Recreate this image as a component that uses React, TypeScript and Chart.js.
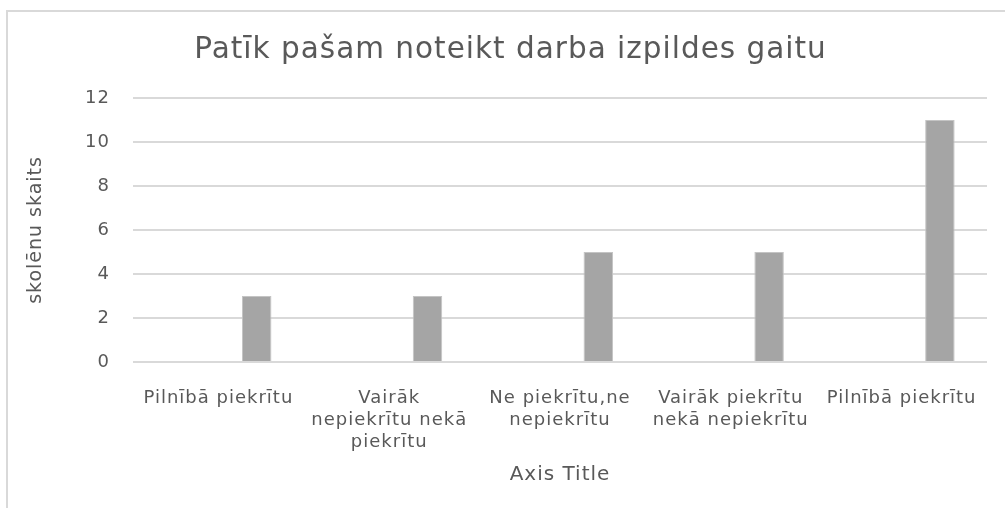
import React, { useEffect, useRef } from "react";
import { Chart, registerables } from "chart.js";

Chart.register(...registerables);

const chartTitle = "Patīk pašam noteikt darba izpildes gaitu";
const yAxisTitle = "skolēnu skaits";
const xAxisTitle = "Axis Title";
const categories: string[][] = [
  ["Pilnībā piekrītu"],
  ["Vairāk", "nepiekrītu nekā", "piekrītu"],
  ["Ne piekrītu,ne", "nepiekrītu"],
  ["Vairāk piekrītu", "nekā nepiekrītu"],
  ["Pilnībā piekrītu"],
];
const emptySeries: (number | null)[] = [null, null, null, null, null];
const counts: number[] = [3, 3, 5, 5, 11];
const yTicks = { min: 0, max: 12, step: 2 };

const FONT = "'DejaVu Sans', 'Open Sans', sans-serif";
const TEXT = "#595959";
const GRID = "#d9d9d9";

const spacingPlugin = {
  id: "letterSpacing",
  beforeUpdate(chart: any) {
    chart.ctx.letterSpacing = "1px";
  },
  beforeDraw(chart: any) {
    chart.ctx.letterSpacing = "1px";
  },
};

export default function App() {
  const ref = useRef<HTMLCanvasElement | null>(null);

  useEffect(() => {
    if (!ref.current) return;
    const chart = new Chart(ref.current, {
      type: "bar",
      data: {
        labels: categories,
        datasets: [
          {
            label: "Series1",
            data: emptySeries,
            backgroundColor: "#a5a5a5",
          },
          {
            label: "Series2",
            data: counts,
            backgroundColor: "#a5a5a5",
            borderColor: "#c4c4c4",
            borderWidth: 1,
          },
        ],
      },
      plugins: [spacingPlugin],
      options: {
        responsive: false,
        animation: false,
        datasets: { bar: { categoryPercentage: 0.897, barPercentage: 0.385 } },
        layout: { padding: { left: 34, right: 18, top: 0, bottom: 0 } },
        plugins: {
          legend: { display: false },
          tooltip: { enabled: false },
          title: {
            display: true,
            text: chartTitle,
            color: TEXT,
            font: { family: FONT, size: 29.5, weight: "normal", lineHeight: 1.2 },
            padding: { top: 33, bottom: 29.5 },
          },
        },
        scales: {
          x: {
            grid: { display: false },
            border: { display: false },
            ticks: {
              color: TEXT,
              font: { family: FONT, size: 18, lineHeight: 1.22 },
              padding: 17,
              maxRotation: 0,
              autoSkip: false,
            },
            title: {
              display: true,
              text: xAxisTitle,
              color: TEXT,
              font: { family: FONT, size: 20, lineHeight: 1.2 },
              padding: { top: 0, bottom: 21 },
            },
            afterFit: (s: any) => {
              s.height = 146;
            },
          },
          y: {
            min: yTicks.min,
            max: yTicks.max,
            grid: { color: GRID, lineWidth: 2, drawTicks: false },
            border: { display: false },
            ticks: {
              stepSize: yTicks.step,
              color: TEXT,
              font: { family: FONT, size: 18 },
              padding: 23,
            },
            title: {
              display: true,
              text: yAxisTitle,
              color: TEXT,
              font: { family: FONT, size: 19, lineHeight: 1.2 },
              padding: { top: -9.5, bottom: 0 },
            },
            afterFit: (s: any) => {
              s.width = 99;
            },
          },
        },
      },
    });
    return () => chart.destroy();
  }, []);

  return (
    <div style={{ position: "absolute", left: 0, top: 0, width: 1005, height: 508, background: "#fff", overflow: "hidden" }}>
      <div
        style={{
          position: "absolute",
          left: 6,
          top: 10,
          width: 1100,
          height: 600,
          borderLeft: "2px solid #d9d9d9",
          borderTop: "2px solid #d9d9d9",
        }}
      />
      <canvas ref={ref} width={1005} height={508} style={{ position: "absolute", left: 0, top: 0 }} />
    </div>
  );
}
